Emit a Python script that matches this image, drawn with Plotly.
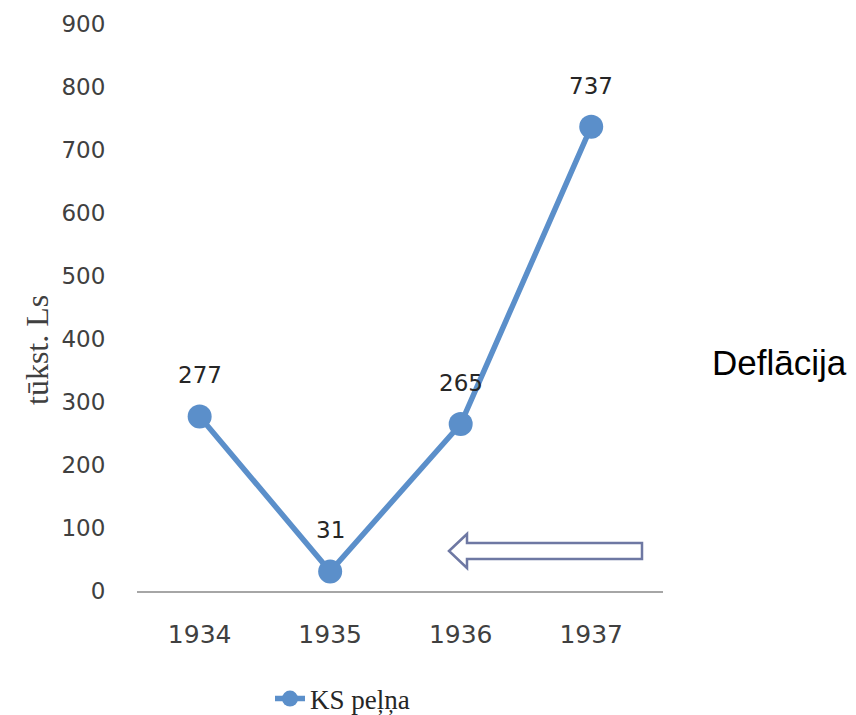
import plotly.graph_objects as go

years = ["1934", "1935", "1936", "1937"]
profit = [277, 31, 265, 737]
y_ticks = [0, 100, 200, 300, 400, 500, 600, 700, 800, 900]
series_name = "KS peļņa"
y_title = "tūkst. Ls"
side_text = "Deflācija"

# page has an 8px body margin; work in page coordinates and subtract it
OFF = 8
W, H = 856 - OFF, 715 - OFF
left, right, top, bottom = 137, 663, 24, 591  # page coords of plot area
ml, mt = left - OFF, top - OFF
mr, mb = W - (right - OFF), H - (bottom - OFF)
pw, ph = W - ml - mr, H - mt - mb

def px(x):
    return (x - OFF - ml) / pw

def py(y):
    return (H - mb - (y - OFF)) / ph

blue = "#5B8FCA"
fig = go.Figure()
fig.add_trace(go.Scatter(
    x=years, y=profit, mode="lines+markers", name=series_name,
    line=dict(color=blue, width=5.5),
    marker=dict(color=blue, size=24),
    cliponaxis=False,
))

for i, yv in enumerate(profit):
    fig.add_annotation(x=i, y=yv, text=str(yv), showarrow=False, yshift=41,
                       font=dict(family="DejaVu Sans, sans-serif", size=23, color="#262626"))

# outline arrow
pts = [(449, 551), (467, 534), (467, 543), (642, 543), (642, 559), (467, 559), (467, 568)]
path = "M " + " L ".join(f"{px(a):.5f},{py(b):.5f}" for a, b in pts) + " Z"
fig.add_shape(type="path", xref="paper", yref="paper", path=path,
              line=dict(color="#6E78A3", width=2.5), fillcolor="rgba(0,0,0,0)")

fig.add_annotation(xref="paper", yref="paper", x=px(710), y=py(362), xanchor="left", yanchor="middle",
                   text=side_text, showarrow=False,
                   font=dict(family="Liberation Sans, Arial", size=35, color="#000000"))

fig.add_annotation(xref="paper", yref="paper", x=px(37), y=py(350), xanchor="center", yanchor="middle",
                   text=y_title, textangle=-90, showarrow=False,
                   font=dict(family="Liberation Serif, serif", size=32, color="#404040"))

fig.update_layout(
    width=W, height=H,
    margin=dict(l=ml, r=mr, t=mt, b=mb, autoexpand=False),
    paper_bgcolor="white", plot_bgcolor="white",
    showlegend=True,
    legend=dict(orientation="h", x=px(270), y=py(699), xanchor="left", yanchor="middle",
                font=dict(family="Liberation Serif, serif", size=27, color="#262626"),
                bgcolor="rgba(0,0,0,0)"),
    xaxis=dict(type="category", range=[-0.48, 3.55], showgrid=False, showline=True,
               linecolor="#A6A6A6", linewidth=2, automargin=False,
               ticks="outside", ticklen=20, tickcolor="rgba(0,0,0,0)",
               tickfont=dict(family="DejaVu Sans, sans-serif", size=25, color="#404040")),
    yaxis=dict(range=[0, 900], tickvals=y_ticks, showgrid=False, zeroline=False, showline=False,
               automargin=False,
               ticks="outside", ticklen=26, tickcolor="rgba(0,0,0,0)",
               tickfont=dict(family="DejaVu Sans, sans-serif", size=23, color="#404040")),
)
fig.write_html("out.html")
